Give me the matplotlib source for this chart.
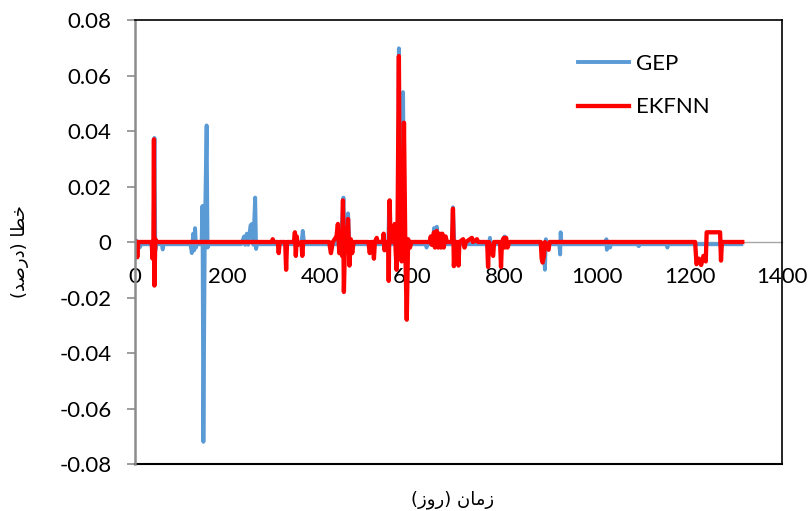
import matplotlib
matplotlib.use("Agg")
import matplotlib.pyplot as plt

# GEP error (blue) (day, value)
gep_day = [0, 3, 6, 10, 14, 38, 40, 42, 44, 46, 58, 60, 62, 120, 123, 126, 128, 130,
           132, 134, 144, 146, 148, 151, 155, 157, 160, 230, 236, 238, 242, 245, 250,
           253, 256, 260, 262, 264, 300, 360, 363, 366, 436, 439, 442, 447, 451, 454,
           458, 461, 465, 468, 548, 550, 552, 566, 569, 571, 574, 577, 580, 583, 586,
           629, 631, 633, 645, 647, 650, 653, 656, 660, 663, 686, 688, 691, 766, 768,
           770, 798, 800, 802, 884, 887, 889, 891, 918, 920, 921, 923, 1018, 1020, 1021,
           1023, 1028, 1030, 1088, 1090, 1092, 1150, 1152, 1154, 1312]
gep_err = [-0.0005, 0.0005, -0.001, -0.002, -0.0008, -0.0008, -0.004, 0.0375, -0.003,
           -0.0008, -0.0008, -0.0027, -0.0008, -0.0008, -0.004, 0.003, -0.003, 0.005,
           -0.002, -0.0008, -0.0008, 0.013, -0.072, 0.002, 0.042, -0.002, -0.0008,
           -0.0008, 0.002, -0.001, 0.003, -0.001, 0.006, 0.0065, -0.001, 0.016, -0.0025,
           -0.0008, -0.0008, -0.0008, 0.004, -0.0008, -0.0008, 0.005, -0.003, 0.004,
           0.016, -0.004, 0.003, 0.0103, -0.005, -0.0008, -0.0008, 0.014, -0.0008,
           -0.0008, 0.005, 0.0698, -0.002, 0.02, 0.054, -0.001, -0.0008, -0.0008, -0.002,
           -0.0008, -0.0008, 0.005, -0.001, 0.0055, -0.001, 0.003, -0.0008, -0.0008,
           0.0125, -0.0008, -0.0008, 0.0015, -0.0008, -0.0008, 0.002, -0.0008, -0.0008,
           -0.010, 0.001, -0.0008, -0.0008, -0.0045, 0.0035, -0.0008, -0.0008, 0.001,
           -0.0028, -0.0008, -0.002, -0.0008, -0.0008, -0.0015, -0.0008, -0.0008, -0.002,
           -0.0008, -0.0008]

# EKFNN error (red)
ek_day = [0, 3, 5, 7, 36, 38, 40, 41, 42, 44, 46, 296, 298, 300, 309, 311, 313, 325, 327,
          329, 344, 346, 348, 350, 352, 360, 362, 364, 420, 424, 428, 436, 439, 442, 445,
          448, 450, 452, 455, 458, 461, 464, 467, 470, 473, 505, 508, 511, 515, 517, 519,
          523, 525, 536, 538, 540, 542, 548, 549, 551, 553, 560, 562, 564, 566, 568, 571,
          573, 575, 577, 580, 582, 585, 588, 591, 595, 598, 638, 640, 642, 647, 649, 653,
          656, 659, 662, 665, 668, 672, 675, 686, 688, 690, 693, 698, 700, 702, 710, 713,
          716, 729, 731, 740, 742, 762, 764, 766, 775, 777, 790, 792, 794, 798, 800, 803,
          806, 810, 878, 880, 882, 885, 887, 895, 897, 1212, 1215, 1220, 1225, 1230, 1235,
          1237, 1266, 1268, 1270, 1314]
ek_err = [0.0005, 0, -0.0055, 0, 0, -0.006, 0.001, 0.037, -0.0157, 0.001, 0, 0, 0.001, 0,
          0, -0.004, 0, 0, -0.01, 0, 0, 0.0035, -0.005, 0.002, -0.001, 0, -0.005, 0, 0,
          -0.004, 0, 0.002, 0.0065, -0.004, 0.003, -0.005, 0.015, -0.018, 0.005, -0.003,
          0.0083, -0.0085, 0.001, -0.004, 0, 0, -0.004, 0, 0, -0.006, 0, 0.0015, 0, 0,
          0.003, -0.003, 0, 0, -0.014, 0.015, 0, 0, 0.0065, -0.003, -0.010, 0.003, 0.067,
          -0.002, 0.02, -0.007, 0.01, 0.043, -0.003, -0.028, 0.001, -0.002, 0, 0, 0.002,
          -0.001, 0.0035, -0.002, 0.004, -0.002, 0.003, -0.002, 0.003, -0.002, 0.002, 0, 0,
          0.012, -0.0087, 0, 0, -0.0085, 0, 0.001, -0.002, 0, 0.0015, 0, 0.001, 0, 0,
          -0.009, 0, -0.005, 0, 0, -0.009, 0, 0.0015, -0.002, 0.0015, -0.002, 0, 0, -0.006,
          -0.0074, -0.005, 0, -0.0028, 0, 0, -0.008, -0.006, -0.0083, -0.005, -0.007,
          0.0035, 0.0035, -0.0067, 0, 0]

x_ticks = [0, 200, 400, 600, 800, 1000, 1200, 1400]
y_ticks = [-0.08, -0.06, -0.04, -0.02, 0, 0.02, 0.04, 0.06, 0.08]
y_labels = ["-0.08", "-0.06", "-0.04", "-0.02", "0", "0.02", "0.04", "0.06", "0.08"]

plt.rcParams['font.family'] = ['Lato', 'DejaVu Sans']

fig = plt.figure(figsize=(8.11, 5.11), dpi=100)
ax = fig.add_axes([135/811, 1-464/511, (782-135)/811, (464-20)/511])

ax.plot(gep_day, gep_err, color='#5B9BD5', lw=2.8, label='GEP')
ax.plot(ek_day, ek_err, color='#FF0000', lw=3.1, label='EKFNN')

ax.set_xlim(0, 1400)
ax.set_ylim(-0.08, 0.08)
ax.set_xticks(x_ticks)
ax.set_yticks(y_ticks)
ax.set_yticklabels(y_labels)

# frame: black top/right/bottom, grey left, grey axis line at zero
for s in ['top', 'right']:
    ax.spines[s].set_color('black')
    ax.spines[s].set_linewidth(1.2)
ax.spines['left'].set_color('#8c8c8c')
ax.spines['left'].set_linewidth(1.8)
ax.spines['bottom'].set_position(('data', 0))
ax.spines['bottom'].set_color('#a6a6a6')
ax.spines['bottom'].set_linewidth(1.0)
ax.spines['bottom'].set_zorder(1)
ax.plot([0, 1], [0, 0], transform=ax.transAxes, color='black', lw=1.5, clip_on=False)

ax.tick_params(axis='x', length=0, pad=18, labelsize=16)
ax.tick_params(axis='y', length=6, width=1.2, color='#8c8c8c', pad=11, labelsize=16)

ax.legend(loc='upper left', bbox_to_anchor=(578/811, 1-54/511), bbox_transform=fig.transFigure,
          frameon=False, fontsize=16, handlelength=2.3, handletextpad=0.3,
          labelspacing=1.05, borderpad=0, borderaxespad=0)

# Persian labels written in visual order with presentation forms
ylab = "(\uFEAA\uFEBB\uFEAD\uFEA9) \uFE8E\uFEC4\uFEA7"   # خطا (درصد)
xlab = "(\uFEAF\uFEED\uFEAD) \uFEE5\uFE8E\uFEE3\uFEAF"   # زمان (روز)
fig.text(20/811, 1-252/511, ylab, rotation=90, ha='center', va='center',
         fontsize=13, family='DejaVu Sans')
fig.text(453/811, 1-500/511, xlab, ha='center', va='center',
         fontsize=13, family='DejaVu Sans')

fig.savefig('out.png', dpi=100)
